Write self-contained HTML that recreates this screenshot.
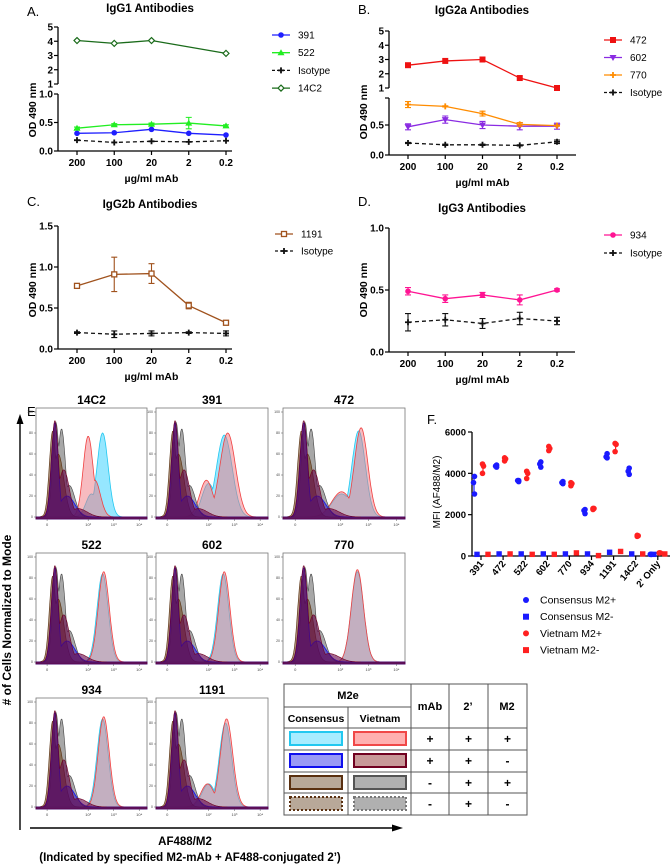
<!DOCTYPE html>
<html><head><meta charset="utf-8">
<style>
html,body{margin:0;padding:0;background:#fff;}
svg{display:block;font-family:"Liberation Sans",Arial,sans-serif;}
</style></head>
<body>
<svg id="fig" width="671" height="868" viewBox="0 0 671 868" xmlns="http://www.w3.org/2000/svg"></svg>
<script>
// ---------- DATA ----------
const doseLabels = ["200","100","20","2","0.2"];
const a391 = [0.31,0.32,0.38,0.31,0.28];
const a522 = [0.40,0.46,0.47,0.49,0.44];
const a522err = [0.02,0.02,0.02,0.10,0.02];
const aIso = [0.19,0.15,0.17,0.16,0.18];
const a14C2 = [4.05,3.85,4.05,null,3.15];
const b472 = [2.6,2.9,3.0,1.7,1.0];
const b602 = [0.47,0.59,0.50,0.48,0.48];
const b602err = [0.05,0.06,0.06,0.06,0.05];
const b770 = [0.84,0.81,0.69,0.51,0.49];
const b770err = [0.05,0.01,0.04,0.03,0.01];
const bIso = [0.20,0.17,0.17,0.16,0.22];
const bIsoErr = [0.01,0.01,0.01,0.01,0.03];
const c1191 = [0.77,0.91,0.92,0.53,0.32];
const c1191err = [0.02,0.21,0.12,0.04,0.02];
const cIso = [0.20,0.18,0.19,0.20,0.19];
const cIsoErr = [0.01,0.04,0.03,0.01,0.03];
const d934 = [0.49,0.43,0.46,0.42,0.50];
const d934err = [0.03,0.03,0.02,0.04,0.01];
const dIso = [0.24,0.26,0.23,0.27,0.25];
const dIsoErr = [0.07,0.05,0.04,0.05,0.03];

const fCats = ["391","472","522","602","770","934","1191","14C2","2' Only"];
const fConsPlus = [[3850,3550,3000],[4400,4350,4300],[3650,3650,3600],[4550,4450,4300],[3600,3550,3500],[2250,2200,2050],[4950,4800,4750],[4250,4100,3950],[80,80,80]];
const fVietPlus = [[4450,4350,4000],[4750,4700,4600],[4100,4000,3750],[5300,5200,5100],[3550,3500,3400],[2300,2300,2250],[5450,5400,5050],[1000,980,950],[150,150,150]];
const fConsMinus = [80,100,100,100,100,100,180,100,80];
const fVietMinus = [80,100,80,80,150,20,220,100,100];

// histogram peak components [mu(fraction of log axis), height(0-1), sd]
const histNames = ["14C2","391","472","522","602","770","934","1191"];
const histCyan = [
 [[0.60,0.80,0.05],[0.50,0.22,0.05]],
 [[0.61,0.78,0.07],[0.47,0.32,0.06]],
 [[0.62,0.82,0.055],[0.48,0.22,0.08]],
 [[0.60,0.84,0.05]],[[0.60,0.84,0.05]],[[0.61,0.86,0.05]],[[0.60,0.84,0.05]],[[0.62,0.8,0.055],[0.47,0.22,0.06]]];
const histRed = [
 [[0.47,0.77,0.045],[0.53,0.35,0.05]],
 [[0.64,0.8,0.07],[0.45,0.35,0.06]],
 [[0.64,0.85,0.055],[0.48,0.24,0.08]],
 [[0.61,0.86,0.05]],[[0.61,0.86,0.05]],[[0.61,0.88,0.05]],[[0.61,0.86,0.05]],[[0.63,0.84,0.055],[0.46,0.22,0.06]]];
const histGray = [[0.18,0.9,0.03],[0.23,0.84,0.035],[0.3,0.3,0.05]];
const histBrown = [[0.15,0.82,0.03],[0.2,0.6,0.05]];
const histBlue = [[0.17,0.9,0.03],[0.28,0.2,0.07]];
const histDark = [[0.17,0.92,0.032],[0.25,0.45,0.05],[0.38,0.08,0.08]];

// ---------- HELPERS ----------
const NS="http://www.w3.org/2000/svg";
const svg=document.getElementById("fig");
function mk(tag,attrs,parent){const e=document.createElementNS(NS,tag);for(const k in attrs)e.setAttribute(k,attrs[k]);(parent||svg).appendChild(e);return e;}
function txt(s,x,y,attrs,parent){const t=mk("text",Object.assign({x:x,y:y,fill:"#000"},attrs),parent);t.textContent=s;return t;}
function marker(g,type,x,y,color){
  let e;
  if(type==="circle") e=mk("circle",{cx:x,cy:y,r:2.8,fill:color},g);
  else if(type==="square") e=mk("rect",{x:x-3,y:y-3,width:6,height:6,fill:color},g);
  else if(type==="osquare") e=mk("rect",{x:x-2.5,y:y-2.5,width:5,height:5,fill:"#fff",stroke:color,"stroke-width":1.3},g);
  else if(type==="tri") e=mk("path",{d:`M${x},${y-3.5}L${x+3.5},${y+2.5}L${x-3.5},${y+2.5}Z`,fill:color},g);
  else if(type==="trid") e=mk("path",{d:`M${x},${y+3.5}L${x+3.5},${y-2.5}L${x-3.5},${y-2.5}Z`,fill:color},g);
  else if(type==="odiam") e=mk("path",{d:`M${x},${y-3}L${x+3},${y}L${x},${y+3}L${x-3},${y}Z`,fill:"#fff",stroke:color,"stroke-width":1.2},g);
  else if(type==="star") e=mk("path",{d:`M${x-3},${y}L${x+3},${y}M${x},${y-3}L${x},${y+3}`,stroke:color,"stroke-width":1.8},g);
  return e;
}
function lineChart(cfg){
  const g=mk("g",{});
  
  
  const xs=i=>cfg.x0+i*(cfg.x1-cfg.x0)/(doseLabels.length-1);
  cfg.axisSegs.forEach(s=>mk("line",{x1:cfg.ax,y1:s[0],x2:cfg.ax,y2:s[1],stroke:"#000","stroke-width":1.3},g));
  mk("line",{x1:cfg.ax,y1:cfg.base,x2:cfg.axEnd,y2:cfg.base,stroke:"#000","stroke-width":1.3},g);
  cfg.yTicks.forEach(t=>{const y=cfg.ys(t[0]);mk("line",{x1:cfg.ax-4,y1:y,x2:cfg.ax,y2:y,stroke:"#000","stroke-width":1.2},g);
    if(t[1]!==""){const l=txt(t[1],cfg.ax-5,y+3.5,{"font-size":10,"font-weight":"bold","text-anchor":"end"},g);}});
  doseLabels.forEach((d,i)=>{mk("line",{x1:xs(i),y1:cfg.base,x2:xs(i),y2:cfg.base+4,stroke:"#000","stroke-width":1.2},g);
    const l=txt(d,xs(i),cfg.base+15,{"font-size":10,"font-weight":"bold","text-anchor":"middle"},g);
    
    });
  const xl=txt("\u00b5g/ml mAb",(cfg.x0+cfg.x1)/2,cfg.base+31,{"font-size":10.5,"font-weight":"bold","text-anchor":"middle"},g);
  
  
  const yl=txt("OD 490 nm",0,0,{"font-size":10.5,"font-weight":"bold","text-anchor":"middle",transform:`translate(${cfg.ax-22},${cfg.ylY}) rotate(-90)`},g);
  
  
  const tt=txt(cfg.title,cfg.tx,cfg.ty,{"font-size":11.5,"font-weight":"bold","text-anchor":"middle"},g);
  
  
  const pl=txt(cfg.letter,cfg.lx,cfg.ly,{"font-size":13},g);
  
  
  cfg.series.forEach((s,si)=>{
    const sg=mk("g",{},g);
    
    
    let d="";s.vals.forEach((v,i)=>{if(v===null)return;d+=(d?"L":"M")+xs(i)+","+cfg.ys(v);});
    mk("path",{d:d,fill:"none",stroke:s.color,"stroke-width":1.3,"stroke-dasharray":s.dash?"4,3":"none"},sg);
    s.vals.forEach((v,i)=>{if(v===null)return;
      if(s.err){const e=s.err[i];const y1=cfg.ys(v+e),y2=cfg.ys(Math.max(0,v-e));
        mk("path",{d:`M${xs(i)},${y1}L${xs(i)},${y2}M${xs(i)-3},${y1}L${xs(i)+3},${y1}M${xs(i)-3},${y2}L${xs(i)+3},${y2}`,stroke:s.color,"stroke-width":1.1,fill:"none"},sg);}
      const m=marker(sg,s.m,xs(i),cfg.ys(v),s.color);
      
      });
    const ly=cfg.legY+si*cfg.legDy;
    const lg=mk("g",{},g);
    
    
    mk("line",{x1:cfg.legX,y1:ly,x2:cfg.legX+18,y2:ly,stroke:s.color,"stroke-width":1.3,"stroke-dasharray":s.dash?"3,2":"none"},lg);
    marker(lg,s.m,cfg.legX+9,ly,s.color);
    txt(s.label,cfg.legX+26,ly+3.5,{"font-size":10},lg);
  });
}
// ---------- A ----------
lineChart({name:"chart-a-igg1",letter:"A.",lx:27,ly:16,title:"IgG1 Antibodies",tx:150,ty:12,
  ax:58,axEnd:232,base:151,x0:77,x1:226,ylY:110,
  ys:v=>v<=1?151-v*57:84-(v-1)*57/4,
  axisSegs:[[151,94],[84,27]],
  yTicks:[[0,"0.0"],[0.5,"0.5"],[1,"1.0"],[1.0001,"1"],[2,"2"],[3,"3"],[4,"4"],[5,"5"]],
  legX:272,legY:35,legDy:17.7,
  series:[{label:"391",vals:a391,color:"#1f1fff",m:"circle"},
          {label:"522",vals:a522,err:a522err,color:"#22ee22",m:"tri"},
          {label:"Isotype",vals:aIso,color:"#111",m:"star",dash:true},
          {label:"14C2",vals:a14C2,color:"#1a6b1a",m:"odiam"}]});
// ---------- B ----------
lineChart({name:"chart-b-igg2a",letter:"B.",lx:358,ly:14,title:"IgG2a Antibodies",tx:482,ty:14,
  ax:389,axEnd:576,base:155,x0:408,x1:557,ylY:112,
  ys:v=>v<1?155-v*60:88-(v-1)*57/4,
  axisSegs:[[155,98],[88,31]],
  yTicks:[[0,"0.0"],[0.5,"0.5"],[0.95,""],[1.0001,"1"],[2,"2"],[3,"3"],[4,"4"],[5,"5"]],
  legX:604,legY:40,legDy:17.5,
  series:[{label:"472",vals:b472,color:"#ee1111",m:"square"},
          {label:"602",vals:b602,err:b602err,color:"#8a2be2",m:"trid"},
          {label:"770",vals:b770,err:b770err,color:"#ff8c00",m:"star"},
          {label:"Isotype",vals:bIso,err:bIsoErr,color:"#111",m:"star",dash:true}]});
// ---------- C ----------
lineChart({name:"chart-c-igg2b",letter:"C.",lx:27,ly:206,title:"IgG2b Antibodies",tx:150,ty:208,
  ax:58,axEnd:232,base:349,x0:77,x1:226,ylY:290,
  ys:v=>349-v*(123/1.5),
  axisSegs:[[349,226]],
  yTicks:[[0,"0.0"],[0.5,"0.5"],[1,"1.0"],[1.5,"1.5"]],
  legX:275,legY:234,legDy:17,
  series:[{label:"1191",vals:c1191,err:c1191err,color:"#a0521d",m:"osquare"},
          {label:"Isotype",vals:cIso,err:cIsoErr,color:"#111",m:"star",dash:true}]});
// ---------- D ----------
lineChart({name:"chart-d-igg3",letter:"D.",lx:358,ly:206,title:"IgG3 Antibodies",tx:482,ty:212,
  ax:389,axEnd:575,base:352,x0:408,x1:557,ylY:290,
  ys:v=>352-v*124,
  axisSegs:[[352,228]],
  yTicks:[[0,"0.0"],[0.5,"0.5"],[1,"1.0"]],
  legX:604,legY:235,legDy:18,
  series:[{label:"934",vals:d934,err:d934err,color:"#ff1493",m:"circle"},
          {label:"Isotype",vals:dIso,err:dIsoErr,color:"#111",m:"star",dash:true}]});

// ---------- E histograms ----------
const eL=txt("E.",27,416,{"font-size":13});


const boxX=[36,156,283], boxW=[111,112,122];
const rowTop=[408,553,698], boxH=111;
function peakPath(comps,bx,by,bw,bh){
  let d="M"+bx+","+(by+bh);
  for(let k=0;k<=150;k++){const f=k/150;let v=0;comps.forEach(c=>{v=Math.max(v,c[1]*Math.exp(-0.5*Math.pow((f-c[0])/c[2],2)));});
    d+="L"+(bx+f*bw).toFixed(1)+","+(by+bh-2-v*(bh-6)).toFixed(1);}
  return d+"L"+(bx+bw)+","+(by+bh)+"Z";
}
histNames.forEach((nm,i)=>{
  const col=i%3,row=Math.floor(i/3);
  const bx=boxX[col],bw=boxW[col],by=rowTop[row],bh=boxH;
  const g=mk("g",{});
  
  
  txt(nm,bx+bw/2,by-4,{"font-size":12,"font-weight":"bold","text-anchor":"middle"},g);
  mk("rect",{x:bx,y:by,width:bw,height:bh,fill:"#fff",stroke:"#777","stroke-width":0.8},g);
  mk("path",{d:peakPath(histCyan[i],bx,by,bw,bh),fill:"rgba(80,215,255,0.6)",stroke:"#22c8f0","stroke-width":0.8},g);
  mk("path",{d:peakPath(histRed[i],bx,by,bw,bh),fill:"rgba(240,120,130,0.5)",stroke:"#f04040","stroke-width":0.8},g);
  mk("path",{d:peakPath(histGray,bx,by,bw,bh),fill:"rgba(120,120,120,0.65)",stroke:"#444","stroke-width":0.6},g);
  mk("path",{d:peakPath(histBrown,bx,by,bw,bh),fill:"rgba(110,70,30,0.6)",stroke:"#5a3010","stroke-width":0.6},g);
  mk("path",{d:peakPath(histBlue,bx,by,bw,bh),fill:"rgba(40,20,200,0.5)",stroke:"#1010ee","stroke-width":0.8},g);
  mk("path",{d:peakPath(histDark,bx,by,bw,bh),fill:"rgba(100,0,70,0.6)",stroke:"#700020","stroke-width":0.6},g);
  ["0","20","40","60","80","100"].forEach((lab,k)=>{const y=by+bh-2-k/5*(bh-6);
    mk("line",{x1:bx-2,y1:y,x2:bx,y2:y,stroke:"#555","stroke-width":0.5},g);
    txt(lab,bx-3,y+1.2,{"font-size":3.5,"text-anchor":"end",fill:"#444"},g);});
  [["0",0.1],["10\u00b2",0.47],["10\u00b3",0.7],["10\u2074",0.93]].forEach(tk=>{const x=bx+tk[1]*bw;
    mk("line",{x1:x,y1:by+bh,x2:x,y2:by+bh+2,stroke:"#555","stroke-width":0.5},g);
    txt(tk[0],x,by+bh+7,{"font-size":4,"text-anchor":"middle",fill:"#444"},g);});
});
const ya=mk("g",{});


mk("line",{x1:20,y1:830,x2:20,y2:420,stroke:"#000","stroke-width":1.4},ya);
mk("path",{d:"M16.5,424L20,414L23.5,424Z",fill:"#000"},ya);
txt("# of Cells Normalized to Mode",0,0,{"font-size":12,"font-weight":"bold","text-anchor":"middle",transform:"translate(11,620) rotate(-90)"},ya);
const xa=mk("g",{});


mk("line",{x1:30,y1:828,x2:396,y2:828,stroke:"#000","stroke-width":1.4},xa);
mk("path",{d:"M392,824.5L403,828L392,831.5Z",fill:"#000"},xa);
txt("AF488/M2",185,845,{"font-size":11.5,"font-weight":"bold","text-anchor":"middle"},xa);
txt("(Indicated by specified M2-mAb + AF488-conjugated 2\u2019)",190,861,{"font-size":11.5,"font-weight":"bold","text-anchor":"middle"},xa);

// legend table
const tb=mk("g",{});


const tX=[284,348,411,449,488,527], tY=[684,707,728,750,772,793,815];
mk("rect",{x:284,y:684,width:243,height:131,fill:"#fff",stroke:"#555","stroke-width":1},tb);
mk("line",{x1:284,y1:707,x2:411,y2:707,stroke:"#555"},tb);
mk("line",{x1:348,y1:707,x2:348,y2:815,stroke:"#555"},tb);
[411,449,488].forEach(x=>mk("line",{x1:x,y1:684,x2:x,y2:815,stroke:"#555"},tb));
[728,750,772,793].forEach(y=>mk("line",{x1:284,y1:y,x2:527,y2:y,stroke:"#555"},tb));
txt("M2e",348,699,{"font-size":11,"font-weight":"bold","text-anchor":"middle"},tb);
txt("Consensus",316,722,{"font-size":10.5,"font-weight":"bold","text-anchor":"middle"},tb);
txt("Vietnam",380,722,{"font-size":10.5,"font-weight":"bold","text-anchor":"middle"},tb);
txt("mAb",430,710,{"font-size":11,"font-weight":"bold","text-anchor":"middle"},tb);
txt("2\u2019",468,710,{"font-size":11,"font-weight":"bold","text-anchor":"middle"},tb);
txt("M2",507,710,{"font-size":11,"font-weight":"bold","text-anchor":"middle"},tb);
const swL=[["#a8ecff","#22c8f0",""],["#9a9af5","#1010ee",""],["#b8a898","#5a3010",""],["#b8a898","#5a3010","2,2"]];
const swR=[["#ffb0b0","#f04848",""],["#c89898","#700020",""],["#b0b0b0","#555",""],["#b0b0b0","#777","2,2"]];
const signs=[["+","+","+"],["+","+","-"],["-","+","+"],["-","+","-"]];
for(let r=0;r<4;r++){const y=tY[r+2];
  mk("rect",{x:290,y:y+4,width:52,height:13,fill:swL[r][0],stroke:swL[r][1],"stroke-width":2,"stroke-dasharray":swL[r][2]},tb);
  mk("rect",{x:354,y:y+4,width:52,height:13,fill:swR[r][0],stroke:swR[r][1],"stroke-width":2,"stroke-dasharray":swR[r][2]},tb);
  signs[r].forEach((s,c)=>txt(s,(tX[c+2]+tX[c+3])/2,y+15,{"font-size":12,"font-weight":"bold","text-anchor":"middle"},tb));}

// ---------- F ----------
const fg=mk("g",{});


txt("F.",427,424,{"font-size":13},fg);
const fys=v=>556-v*124/6000;
const fxs=i=>481+i*22.1;
mk("line",{x1:472,y1:432,x2:472,y2:556,stroke:"#000","stroke-width":1.3},fg);
mk("line",{x1:472,y1:556,x2:670,y2:556,stroke:"#000","stroke-width":1.3},fg);
[0,2000,4000,6000].forEach(v=>{mk("line",{x1:468,y1:fys(v),x2:472,y2:fys(v),stroke:"#000","stroke-width":1.2},fg);
  txt(String(v),466,fys(v)+3.5,{"font-size":9.5,"font-weight":"bold","text-anchor":"end"},fg);});
txt("MFI (AF488/M2)",0,0,{"font-size":10,"text-anchor":"middle",transform:"translate(440,492) rotate(-90)"},fg);
fCats.forEach((c,i)=>{const x=fxs(i);
  mk("line",{x1:x,y1:556,x2:x,y2:560,stroke:"#000","stroke-width":1.2},fg);
  const l=txt(c,0,0,{"font-size":9.5,"font-weight":"bold","text-anchor":"end",transform:`translate(${x+3},${564}) rotate(-50)`},fg);
  
  
  const bp=fConsPlus[i], rp=fVietPlus[i];
  const bx=x-7, rx=x+2;
  mk("line",{x1:bx,y1:fys(Math.max(...bp)),x2:bx,y2:fys(Math.min(...bp)),stroke:"#1a1aff","stroke-width":1.2},fg);
  mk("line",{x1:rx,y1:fys(Math.max(...rp)),x2:rx,y2:fys(Math.min(...rp)),stroke:"#ff2020","stroke-width":1.2},fg);
  bp.forEach((v,k)=>{const p=mk("circle",{cx:bx+(k===1?-0.5:0.5),cy:fys(v),r:2.8,fill:"#1a1aff"},fg);
    
    });
  rp.forEach((v,k)=>{const p=mk("circle",{cx:rx+(k===1?0.5:-0.5),cy:fys(v),r:2.8,fill:"#ff2020"},fg);
    
    });
  const q1=mk("rect",{x:x-4-2.7,y:fys(fConsMinus[i])-2.7,width:5.4,height:5.4,fill:"#1a1aff"},fg);
  
  
  const q2=mk("rect",{x:x+7-2.7,y:fys(fVietMinus[i])-2.7,width:5.4,height:5.4,fill:"#ff2020"},fg);
  
  
});
const fLeg=[["Consensus M2+","#1a1aff","c"],["Consensus M2-","#1a1aff","s"],["Vietnam M2+","#ff2020","c"],["Vietnam M2-","#ff2020","s"]];
fLeg.forEach((e,k)=>{const y=600+k*16.7;
  const lg=mk("g",{},fg);
  
  
  if(e[2]==="c") mk("circle",{cx:526,cy:y,r:3,fill:e[1]},lg); else mk("rect",{x:523,y:y-3,width:6,height:6,fill:e[1]},lg);
  txt(e[0],540,y+3.5,{"font-size":10.5},lg);});
</script>
</body></html>
